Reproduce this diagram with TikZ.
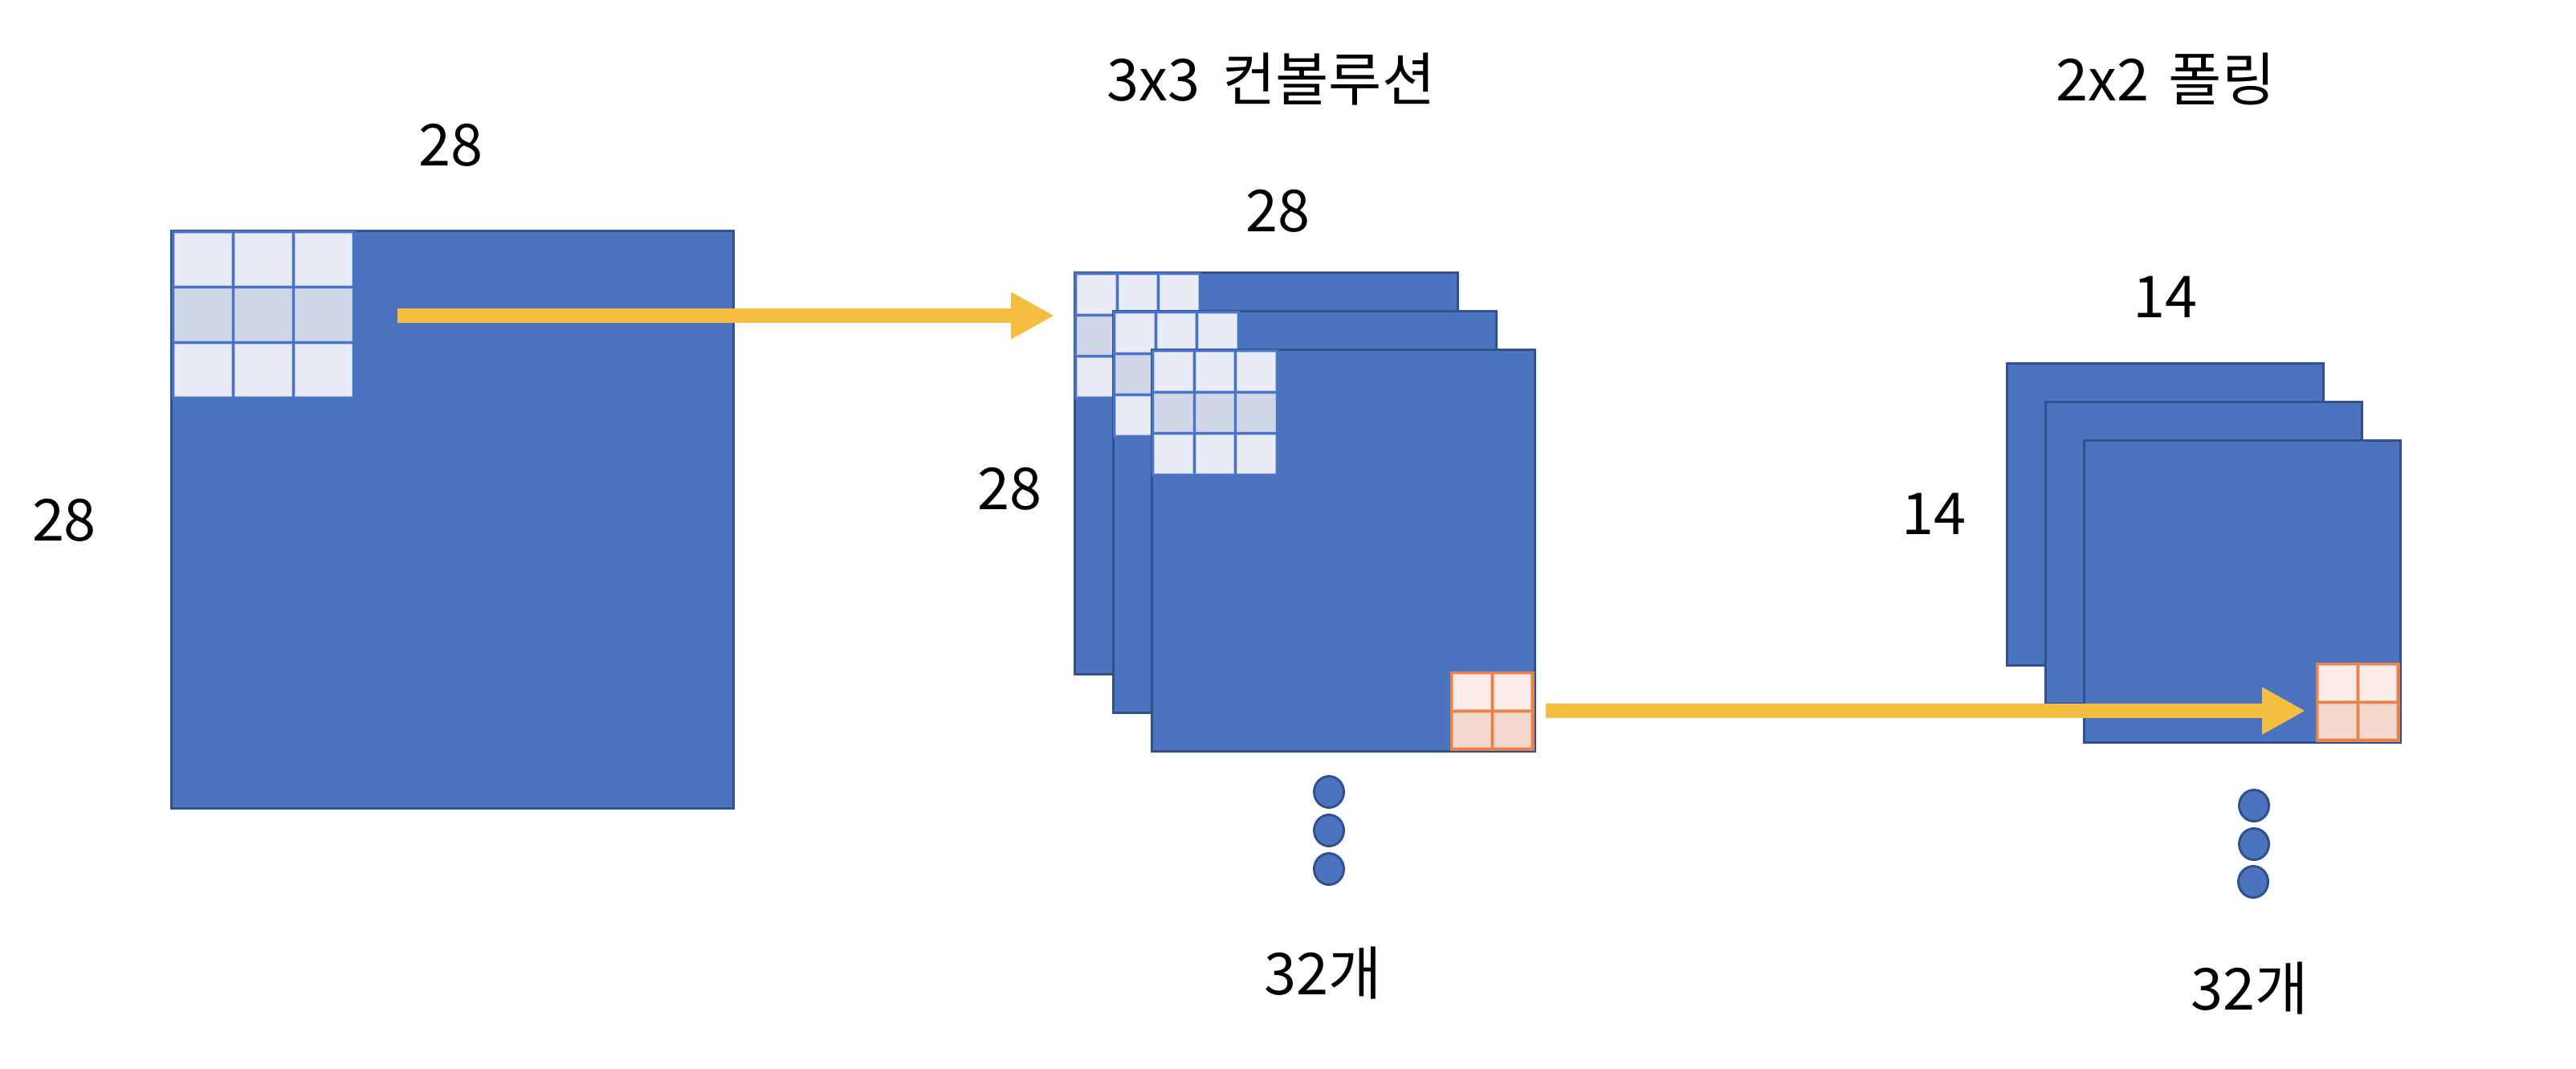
\documentclass[tikz,border=0pt]{standalone}
\usepackage{fontspec}
\setmainfont{Noto Sans CJK KR}
\usetikzlibrary{arrows.meta,shapes.geometric,positioning}
\definecolor{mapfill}{HTML}{4C73BD}
\definecolor{mapline}{HTML}{2F528F}
\definecolor{kerframe}{HTML}{4874C6}
\definecolor{kerlight}{HTML}{E8EBF5}
\definecolor{kermid}{HTML}{D0D5E8}
\definecolor{kerrim}{HTML}{B7C3E3}
\definecolor{poolline}{HTML}{E5834A}
\definecolor{poollight}{HTML}{F9EBE8}
\definecolor{pooldark}{HTML}{F3D8CF}
\definecolor{poolrim}{HTML}{F0B59A}
\definecolor{arrowy}{HTML}{F4BF41}
\tikzset{
  % ---- feature maps ----------------------------------------------
  fmap/.style       = {rectangle, draw=mapline, fill=mapfill, line width=.85pt,
                       inner sep=0pt, anchor=north west},
  more/.style       = {ellipse, draw=mapline, fill=mapfill, line width=.85pt,
                       inner sep=0pt, minimum width=3.7mm, minimum height=3.9mm},
  % ---- 3x3 kernel ------------------------------------------------
  kframe/.style     = {rectangle, fill=kerframe, inner sep=0pt, anchor=north west},
  kcellA/.style     = {rectangle, fill=kerlight, draw=kerrim, line width=.3pt,
                       inner sep=0pt, anchor=north west},
  kcellB/.style     = {kcellA, fill=kermid},
  % ---- 2x2 pooling window ----------------------------------------
  pframe/.style     = {rectangle, fill=poolline, inner sep=0pt, anchor=north west,
                       minimum width=1.05cm, minimum height=.99cm},
  pcellA/.style     = {rectangle, fill=poollight, draw=poolrim, line width=.3pt,
                       inner sep=0pt, anchor=north west,
                       minimum width=.465cm, minimum height=.435cm},
  pcellB/.style     = {pcellA, fill=pooldark},
  % ---- arrows and labels -----------------------------------------
  flow/.style       = {draw=arrowy, line width=1.8mm,
                       -{Triangle[length=5.4mm, width=5.5mm]}},
  lbl/.style        = {font=\fontsize{20.5}{24}\selectfont, text=black,
                       inner sep=0pt, anchor=base},
}
\begin{document}
\begin{tikzpicture}
  \useasboundingbox (0,0) rectangle (32.08,-13.30);
  \node[fmap, minimum width=7.00cm, minimum height=7.19cm] (inmap) at (2.12,-2.86) {};
  \node[kframe, minimum width=2.29cm, minimum height=2.11cm] (inker) at (2.13,-2.86) {};
  \node[kcellA, minimum width=.71cm, minimum height=.65cm] (in11) at (2.17,-2.90) {};
  \node[kcellA, minimum width=.71cm, minimum height=.65cm] (in12) at (2.92,-2.90) {};
  \node[kcellA, minimum width=.71cm, minimum height=.65cm] (in13) at (3.67,-2.90) {};
  \node[kcellB, minimum width=.71cm, minimum height=.65cm] (in21) at (2.17,-3.59) {};
  \node[kcellB, minimum width=.71cm, minimum height=.65cm] (in22) at (2.92,-3.59) {};
  \node[kcellB, minimum width=.71cm, minimum height=.65cm] (in23) at (3.67,-3.59) {};
  \node[kcellA, minimum width=.71cm, minimum height=.65cm] (in31) at (2.17,-4.28) {};
  \node[kcellA, minimum width=.71cm, minimum height=.65cm] (in32) at (2.92,-4.28) {};
  \node[kcellA, minimum width=.71cm, minimum height=.65cm] (in33) at (3.67,-4.28) {};
  \node[fmap, minimum width=4.77cm, minimum height=5.00cm] (convA) at (13.37,-3.38) {};
  \node[kframe, minimum width=1.585cm, minimum height=1.585cm] (kerA) at (13.37,-3.38) {};
  \node[kcellA, minimum size=.475cm] (a11) at (13.41,-3.42) {};
  \node[kcellA, minimum size=.475cm] (a12) at (13.925,-3.42) {};
  \node[kcellA, minimum size=.475cm] (a13) at (14.44,-3.42) {};
  \node[kcellB, minimum size=.475cm] (a21) at (13.41,-3.935) {};
  \node[kcellB, minimum size=.475cm] (a22) at (13.925,-3.935) {};
  \node[kcellB, minimum size=.475cm] (a23) at (14.44,-3.935) {};
  \node[kcellA, minimum size=.475cm] (a31) at (13.41,-4.45) {};
  \node[kcellA, minimum size=.475cm] (a32) at (13.925,-4.45) {};
  \node[kcellA, minimum size=.475cm] (a33) at (14.44,-4.45) {};
  \node[fmap, minimum width=4.77cm, minimum height=5.00cm] (convB) at (13.85,-3.86) {};
  \node[kframe, minimum width=1.585cm, minimum height=1.585cm] (kerB) at (13.85,-3.86) {};
  \node[kcellA, minimum size=.475cm] (b11) at (13.89,-3.90) {};
  \node[kcellA, minimum size=.475cm] (b12) at (14.405,-3.90) {};
  \node[kcellA, minimum size=.475cm] (b13) at (14.92,-3.90) {};
  \node[kcellB, minimum size=.475cm] (b21) at (13.89,-4.415) {};
  \node[kcellB, minimum size=.475cm] (b22) at (14.405,-4.415) {};
  \node[kcellB, minimum size=.475cm] (b23) at (14.92,-4.415) {};
  \node[kcellA, minimum size=.475cm] (b31) at (13.89,-4.93) {};
  \node[kcellA, minimum size=.475cm] (b32) at (14.405,-4.93) {};
  \node[kcellA, minimum size=.475cm] (b33) at (14.92,-4.93) {};
  \node[fmap, minimum width=4.77cm, minimum height=5.00cm] (convC) at (14.33,-4.34) {};
  \node[kframe, minimum width=1.585cm, minimum height=1.585cm] (kerC) at (14.33,-4.34) {};
  \node[kcellA, minimum size=.475cm] (c11) at (14.37,-4.38) {};
  \node[kcellA, minimum size=.475cm] (c12) at (14.885,-4.38) {};
  \node[kcellA, minimum size=.475cm] (c13) at (15.40,-4.38) {};
  \node[kcellB, minimum size=.475cm] (c21) at (14.37,-4.895) {};
  \node[kcellB, minimum size=.475cm] (c22) at (14.885,-4.895) {};
  \node[kcellB, minimum size=.475cm] (c23) at (15.40,-4.895) {};
  \node[kcellA, minimum size=.475cm] (c31) at (14.37,-5.41) {};
  \node[kcellA, minimum size=.475cm] (c32) at (14.885,-5.41) {};
  \node[kcellA, minimum size=.475cm] (c33) at (15.40,-5.41) {};
  \node[pframe] (winC) at (18.05,-8.35) {};
  \node[pcellA] (w11) at (18.09,-8.39) {};
  \node[pcellA] (w12) at (18.595,-8.39) {};
  \node[pcellB] (w21) at (18.09,-8.865) {};
  \node[pcellB] (w22) at (18.595,-8.865) {};
  \node[fmap, minimum width=3.94cm, minimum height=3.76cm] (poolA) at (24.98,-4.51) {};
  \node[fmap, minimum width=3.94cm, minimum height=3.76cm] (poolB) at (25.46,-4.99) {};
  \node[fmap, minimum width=3.94cm, minimum height=3.76cm] (poolC) at (25.94,-5.47) {};
  \node[pframe] (winP) at (28.83,-8.24) {};
  \node[pcellA] (p11) at (28.87,-8.28) {};
  \node[pcellA] (p12) at (29.375,-8.28) {};
  \node[pcellB] (p21) at (28.87,-8.755) {};
  \node[pcellB] (p22) at (29.375,-8.755) {};
  \coordinate (f1s) at (4.95,-3.93);
  \coordinate (f1e) at (13.13,-3.93);
  \coordinate (f2s) at (19.25,-8.85);
  \coordinate (f2e) at (28.71,-8.85);
  \draw[flow] (f1s) -- (f1e);
  \draw[flow] (f2s) -- (f2e);
  \node[more] (dc1) at (16.55,-9.86) {};
  \node[more] (dc2) at (16.55,-10.34) {};
  \node[more] (dc3) at (16.55,-10.82) {};
  \node[more] (dp1) at (28.07,-10.03) {};
  \node[more] (dp2) at (28.07,-10.51) {};
  \node[more] (dp3) at (28.06,-10.98) {};
  \node[lbl] (inW) at (5.61,-2.06) {28};
  \node[lbl] (inH) at (0.80,-6.73) {28};
  \node[lbl] (convT) at (15.83,-1.25) {3x3\hspace{.12cm} 컨볼루션};
  \node[lbl] (convW) at (15.91,-2.88) {28};
  \node[lbl] (convH) at (12.57,-6.34) {28};
  \node[lbl] (convN) at (16.48,-12.38) {32개};
  \node[lbl] (poolT) at (26.97,-1.25) {2x2\hspace{.08cm} 폴링};
  \node[lbl] (poolW) at (26.96,-3.95) {14};
  \node[lbl] (poolH) at (24.08,-6.65) {14};
  \node[lbl] (poolN) at (28.02,-12.57) {32개};
\end{tikzpicture}
\end{document}
